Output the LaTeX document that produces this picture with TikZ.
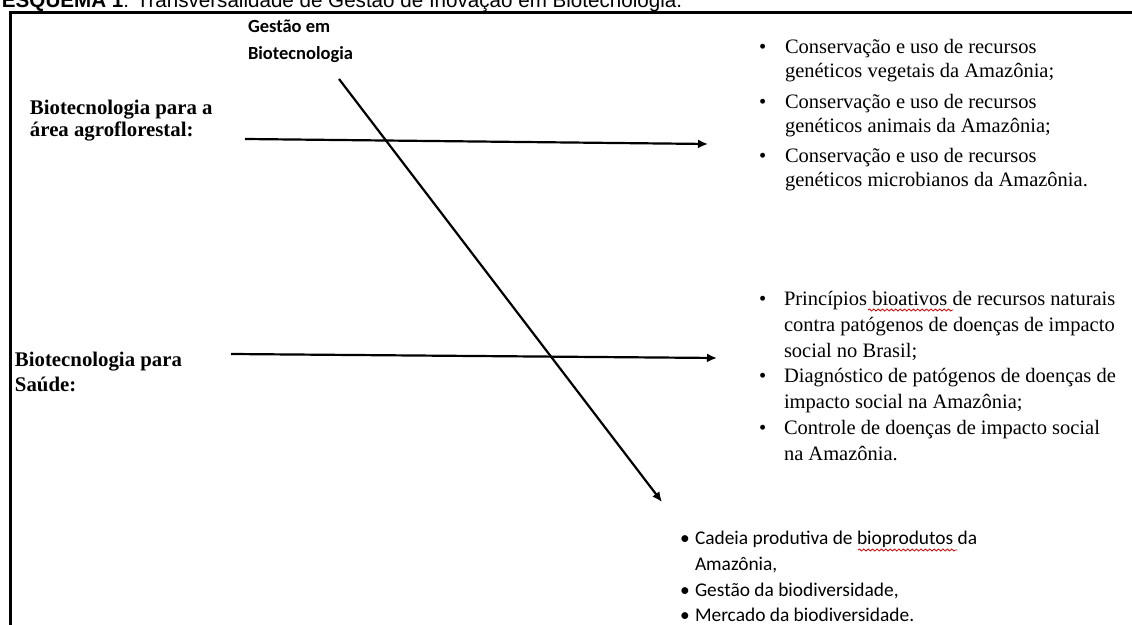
\documentclass[tikz,border=0pt]{standalone}
\usepackage{fontspec}
\setmainfont{Liberation Serif}
\newfontfamily\clbfont{Carlito}
\newfontfamily\arlfont{Liberation Sans}
\usepackage{tikz}
\usetikzlibrary{arrows.meta,decorations.pathmorphing}
\tikzstyle{every node}=[inner sep=0pt,outer sep=0pt,anchor=base west]
\newcommand{\tms}{\fontsize{10.25}{12}\selectfont}
\newcommand{\tmsb}{\fontsize{10.25}{12.85}\selectfont}
\newcommand{\clb}{\clbfont\fontsize{9.7}{13}\selectfont}
\newcommand{\linhas}[1]{\begin{tabular}[t]{@{}l@{}}#1\end{tabular}}

\begin{document}
\begin{tikzpicture}[x=0.5pt,y=-0.5pt,
    seta/.style={line width=1.1pt,-{Latex[length=5pt,width=4.5pt]}},
    rotulo/.style={font=\fontsize{10.4}{11}\selectfont\bfseries},
    itemA/.style={font=\tms},
    itemB/.style={font=\tmsb},
    itemC/.style={font=\clb},
    onda/.style={red!85!black,line width=0.4pt,decorate,
      decoration={snake,amplitude=0.5pt,segment length=2.2pt}}]
  \useasboundingbox (0,0) rectangle (1132,625);
  \clip (0,0) rectangle (1132,625);
  \node (titulo) at (2,8) {\arlfont\fontsize{10.3}{12}\selectfont\textbf{ESQUEMA 1}: Transversalidade de Gestão de Inovação em Biotecnologia.};
  \draw[line width=1.5pt] (10.5,640) -- (10.5,13) -- (1140,13);

  \node[font=\clbfont\fontsize{9.25}{13.5}\selectfont\bfseries] (gestao) at (248,33) {\linhas{Gestão em\\Biotecnologia}};
  \node[rotulo] (agro) at (30,115) {\linhas{Biotecnologia para a\\área agroflorestal:}};
  \node[rotulo,font=\fontsize{10.4}{12.5}\selectfont\bfseries] (saude) at (15,367) {\linhas{Biotecnologia para\\Saúde:}};

  \node[itemA] (ba1) at (759,54) {\textbullet};
  \node[itemA] (agro1) at (785,54) {\linhas{Conservação e uso de recursos\\genéticos vegetais da Amazônia;}};
  \node[itemA] (ba2) at (759,109) {\textbullet};
  \node[itemA] (agro2) at (785,109) {\linhas{Conservação e uso de recursos\\genéticos animais da Amazônia;}};
  \node[itemA] (ba3) at (759,163) {\textbullet};
  \node[itemA] (agro3) at (785,163) {\linhas{Conservação e uso de recursos\\genéticos microbianos da Amazônia.}};

  \node[itemB] (bs1) at (759,306) {\textbullet};
  \node[itemB] (saude1) at (784,306) {\linhas{Princípios bioativos de recursos naturais\\contra patógenos de doenças de impacto\\social no Brasil;}};
  \node[itemB] (bs2) at (759,383) {\textbullet};
  \node[itemB] (saude2) at (784,383) {\linhas{Diagnóstico de patógenos de doenças de\\impacto social na Amazônia;}};
  \node[itemB] (bs3) at (759,434.5) {\textbullet};
  \node[itemB] (saude3) at (784,434.5) {\linhas{Controle de doenças de impacto social\\na Amazônia.}};

  \node[itemC] (bg1) at (680,545) {\textbullet};
  \node[itemC] (gest1) at (695,545) {\linhas{Cadeia produtiva de bioprodutos da\\Amazônia,}};
  \node[itemC] (bg2) at (680,597) {\textbullet};
  \node[itemC] (gest2) at (695,597) {Gestão da biodiversidade,};
  \node[itemC] (bg3) at (680,622) {\textbullet};
  \node[itemC] (gest3) at (695,622) {Mercado da biodiversidade.};

  \coordinate (agroini) at (245,139);
  \coordinate (agrofim) at (708,144);
  \coordinate (saudeini) at (231,354);
  \coordinate (saudefim) at (717,358);
  \coordinate (gestaoini) at (339,79);
  \coordinate (gestaofim) at (662,502);
  \draw[seta] (agroini) -- (agrofim);
  \draw[seta] (saudeini) -- (saudefim);
  \draw[seta] (gestaoini) -- (gestaofim);

  \draw[onda] (868,310) -- (953,310);
  \draw[onda] (858,550) -- (957,550);
\end{tikzpicture}
\end{document}
